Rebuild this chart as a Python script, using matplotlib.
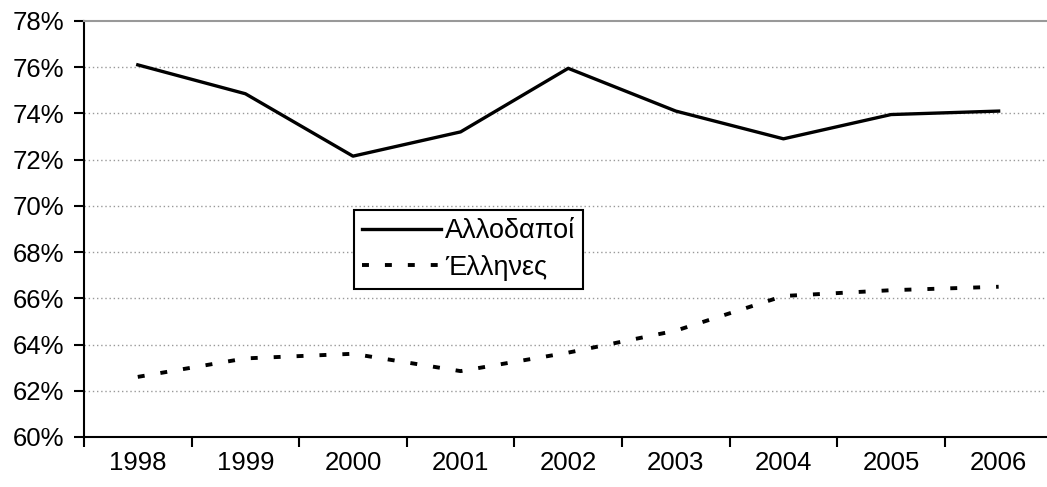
import matplotlib
matplotlib.use("Agg")
import matplotlib.pyplot as plt
import numpy as np

matplotlib.rcParams['font.family'] = ['Liberation Sans', 'DejaVu Sans']
matplotlib.rcParams['font.size'] = 18.5
matplotlib.rcParams['lines.scale_dashes'] = False

years = ["1998", "1999", "2000", "2001", "2002", "2003", "2004", "2005", "2006"]
foreigners = [76.1, 74.85, 72.15, 73.2, 75.95, 74.1, 72.9, 73.95, 74.1]
greeks = [62.6, 63.4, 63.6, 62.85, 63.65, 64.6, 66.1, 66.35, 66.5]
yticks = [60, 62, 64, 66, 68, 70, 72, 74, 76, 78]


def main():
    fig = plt.figure(figsize=(10.47, 4.87), dpi=100)
    ax = fig.add_axes([0.0802, 0.1027, 0.925, 0.8543])

    x = np.arange(len(years))
    l1, = ax.plot(x, foreigners, color="k", linewidth=2.4)
    l2, = ax.plot(x, greeks, color="k", linewidth=2.8, linestyle=(0, (5, 11.5)))

    ax.set_xlim(-0.5, len(years) - 0.5)
    ax.set_ylim(60, 78)

    # y axis
    ax.set_yticks(yticks)
    ax.set_yticklabels(["%d%%" % v for v in yticks])
    for v in yticks[1:-1]:
        ax.axhline(v, color="#999999", linewidth=1.0, linestyle=(0, (1, 2)), zorder=0)

    # x axis: labels at centre, ticks between categories
    ax.set_xticks(x)
    ax.set_xticklabels(years)
    ax.set_xticks(np.arange(-0.5, len(years), 1.0), minor=True)
    ax.tick_params(axis="x", which="major", length=0, pad=10)
    ax.tick_params(axis="x", which="minor", length=7, width=1.5, direction="out")
    ax.tick_params(axis="y", length=7, width=1.5, direction="out", pad=7)

    ax.spines["right"].set_visible(False)
    ax.spines["top"].set_color("#999999")
    ax.spines["top"].set_linewidth(1.5)
    ax.spines["left"].set_linewidth(1.5)
    ax.spines["bottom"].set_linewidth(1.5)

    leg = ax.legend([l1, l2], ["Αλλοδαποί", "Έλληνες"],
                    loc="upper left", bbox_to_anchor=(354 / 1047.0, 1 - 210 / 487.0),
                    bbox_transform=fig.transFigure, prop={"size": 19.5},
                    fancybox=False, framealpha=1, edgecolor="k",
                    handlelength=2.9, handletextpad=0.15, borderpad=0.3,
                    labelspacing=0.4, borderaxespad=0)
    leg.get_frame().set_linewidth(1.5)

    fig.savefig("out.png", dpi=100)
    plt.close(fig)


if __name__ == '__main__':
    main()
